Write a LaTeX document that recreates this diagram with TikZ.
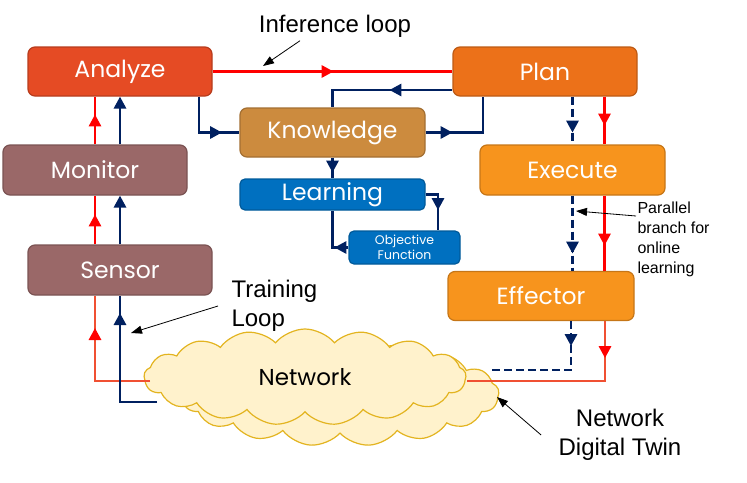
\documentclass[tikz,border=0pt]{standalone}
\usepackage{fontspec}
\setmainfont{Liberation Sans}
\newfontfamily\boxfont{Poppins}
\usetikzlibrary{arrows.meta,shapes.symbols,decorations.markings}
\definecolor{analyzec}{HTML}{E54B24}
\definecolor{planc}{HTML}{EC7119}
\definecolor{execc}{HTML}{F7941D}
\definecolor{knowc}{HTML}{CC8B3E}
\definecolor{learnc}{HTML}{0070C0}
\definecolor{monc}{HTML}{9A6868}
\definecolor{navy}{HTML}{002060}
\definecolor{linered}{HTML}{FF0000}
\definecolor{lineorange}{HTML}{F05032}
\definecolor{cloudfill}{HTML}{FFF2CC}
\definecolor{cloudline}{HTML}{E3B420}

\begin{document}
\begin{tikzpicture}[x=1pt,y=-1pt,
          every node/.style={font=\fontsize{24}{29}\selectfont},
          box/.style={rectangle,rounded corners=7pt,line width=1.2pt,
              minimum width=184pt,minimum height=49pt,inner sep=0pt,
              text=white,font=\boxfont\fontsize{23.5}{27}\selectfont},
          netcloud/.style={cloud,cloud puffs=17,cloud puff arc=100,cloud ignores aspect,
              draw=cloudline,fill=cloudfill,line width=1.2pt,inner sep=0pt},
          wire/.style={line width=2.9pt},
          arrowat/.style={postaction={decorate},decoration={markings,
              mark=at position #1 with {\arrow{Triangle[length=12pt,width=12pt]}}}},
          redtipat/.style={postaction={decorate},decoration={markings,
              mark=at position #1 with {\arrow[linered]{Triangle[length=12pt,width=12pt]}}}},
          note/.style={-{Triangle[length=11pt,width=8pt]},line width=0.8pt}]
        \useasboundingbox (0,0) rectangle (747,482);

        \node[netcloud,minimum width=318pt,minimum height=104pt] (netback) at (340,394) {};
        \node[netcloud,minimum width=322pt,minimum height=96pt,
          font=\boxfont\fontsize{23}{27}\selectfont] (net) at (305,377) {Network};

        \node[box,draw=analyzec!80!black,fill=analyzec] (analyze) at (120,71.5) {Analyze};
        \node[box,draw=planc!80!black,fill=planc] (plan) at (545,71.5) {Plan};
        \node[box,draw=knowc!80!black,fill=knowc,minimum width=185pt] (knowledge) at (332.5,132.5) {Knowledge};
        \node[box,draw=learnc!80!black,fill=learnc,minimum width=185pt,minimum height=31pt,
          rounded corners=5pt] (learning) at (332.5,194.5) {Learning};
        \node[box,draw=learnc!80!black,fill=learnc,minimum width=111pt,minimum height=33pt,
          rounded corners=5pt,align=center,font=\boxfont\fontsize{12.5}{15}\selectfont]
          (objective) at (404.5,247.5) {Objective\\Function};
        \node[box,draw=monc!80!black,fill=monc,minimum height=50pt] (monitor) at (95,170) {Monitor};
        \node[box,draw=monc!80!black,fill=monc,minimum height=50pt] (sensor) at (120,270) {Sensor};
        \node[box,draw=execc!80!black,fill=execc,minimum width=185pt,minimum height=50pt] (execute) at (572.5,170) {Execute};
        \node[box,draw=execc!80!black,fill=execc,minimum width=186pt] (effector) at (541,296) {Effector};

        \coordinate (netw) at (150,381);
        \coordinate (netsw) at (157,402);
        \coordinate (nete) at (490,370);
        \coordinate (netr) at (467,381);

        \draw[wire,linered,arrowat=121pt] (analyze.east)--(plan.west);
        \draw[wire,linered,arrowat=30pt] (monitor.north)--(monitor.north |- analyze.south);
        \draw[wire,navy,-{Triangle[length=12pt,width=12pt]}] (analyze.south |- monitor.north)--(analyze.south);
        \draw[wire,linered,arrowat=30pt] (monitor.south |- sensor.north)--(monitor.south);
        \draw[wire,navy,-{Triangle[length=12pt,width=12pt]}] (sensor.north)--(sensor.north |- monitor.south);
        \draw[wire,lineorange,redtipat=108pt] (netw) -| (monitor.south |- sensor.south);
        \draw[wire,navy,arrowat=126pt] (netsw) -| (sensor.south);

        \draw[wire,navy,arrowat=59pt] ([xshift=79pt]analyze.south) |- (knowledge.west);
        \draw[wire,navy,arrowat=63pt] ([yshift=-18.5pt]plan.west) -| (knowledge.north);
        \draw[wire,navy,arrowat=27pt] (knowledge.east) -| ([xshift=-62pt]plan.south);
        \draw[wire,navy,arrowat=15pt] (knowledge.south)--(learning.north);
        \draw[wire,navy,arrowat=28pt] (learning.east) -| ([xshift=33.5pt]objective.north);
        \draw[wire,navy,arrowat=14pt] (objective.west) -| (learning.south);

        \draw[wire,navy,dash pattern=on 8pt off 4pt,arrowat=36pt] (execute.north |- plan.south)--(execute.north);
        \draw[wire,linered,arrowat=29pt] ([xshift=32pt]execute.north |- plan.south)--([xshift=32pt]execute.north);
        \draw[wire,navy,dash pattern=on 8pt off 4pt,arrowat=58pt] (execute.south)--(execute.south |- effector.north);
        \draw[wire,linered,arrowat=50pt] ([xshift=32pt]execute.south)--([xshift=32pt]execute.south |- effector.north);
        \draw[wire,navy,dash pattern=on 8pt off 4pt,arrowat=25pt] ([xshift=30pt]effector.south) |- (nete);
        \draw[wire,lineorange,redtipat=37pt] ([xshift=64pt]effector.south) |- (netr);

        \node (inf) at (335,26) {Inference loop};
        \coordinate (inftip) at (263,66);
        \draw[note] ([xshift=-35pt]inf.south)--(inftip);
        \node[align=left,anchor=west] (train) at (228,306) {Training\\Loop};
        \coordinate (traintip) at (131,333);
        \draw[note] ([xshift=-10pt]train.west)--(traintip);
        \node[align=left,anchor=north west,font=\fontsize{16}{20}\selectfont] (para) at (634,198) {Parallel\\branch for\\online\\learning};
        \coordinate (paratip) at (576,211);
        \draw[note] ([shift={(2pt,-18pt)}]para.north west)--(paratip);
        \node[align=center] (twin) at (620,435) {Network\\Digital Twin};
        \coordinate (twintip) at (497,397);
        \draw[note] ([xshift=-14pt]twin.west)--(twintip);
      \end{tikzpicture}
\end{document}
